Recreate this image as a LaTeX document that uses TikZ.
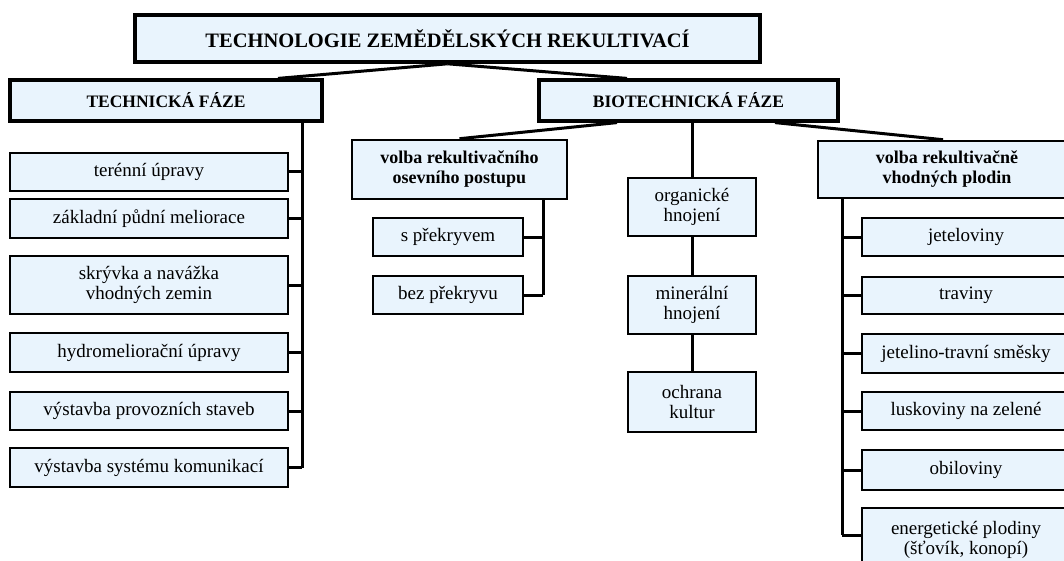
\documentclass[tikz,border=0pt]{standalone}
\usepackage{fontspec}
\setmainfont{Liberation Serif}
\usetikzlibrary{calc}
\definecolor{boxfill}{HTML}{E9F4FD}
\begin{document}
\begin{tikzpicture}[x=1pt,y=-1pt,
  sz/.style 2 args={minimum width=#1pt, minimum height=#2pt},
  box/.style={draw=black, line width=2.6pt, fill=boxfill, inner sep=0pt, align=center,
    font=\fontsize{19}{20.5}\selectfont, text=black},
  headbox/.style={box, line width=3.2pt, font=\bfseries\fontsize{17.5}{20}\selectfont},
  titlebox/.style={box, line width=3.6pt, font=\bfseries\fontsize{20.5}{22}\selectfont},
  subhead/.style={box, font=\bfseries\fontsize{18}{20}\selectfont},
  link/.style={draw=black, line width=3pt}]
\useasboundingbox (0,0) rectangle (1064,561);
\clip (0,0) rectangle (1064,561);
\fill[white] (0,0) rectangle (1064,561);

% top levels
\node[titlebox, sz={625}{47}] (title) at (447.5,38.5) {TECHNOLOGIE ZEMĚDĚLSKÝCH REKULTIVACÍ};
\node[headbox, sz={312}{41}] (tech) at (166,100.5) {TECHNICKÁ FÁZE};
\node[headbox, sz={299}{41}] (bio) at (688.5,100.5) {BIOTECHNICKÁ FÁZE};

% technical phase
\node[box, sz={278}{38}] (t1) at (149,172) {terénní úpravy};
\node[box, sz={278}{39}] (t2) at (149,218.5) {základní půdní meliorace};
\node[box, sz={278}{58}] (t3) at (149,285) {skrývka a navážka\\vhodných zemin};
\node[box, sz={278}{39}] (t4) at (149,352.5) {hydromeliorační úpravy};
\node[box, sz={278}{38}] (t5) at (149,411) {výstavba provozních staveb};
\node[box, sz={278}{39}] (t6) at (149,467.5) {výstavba systému komunikací};

% biotechnical phase - left
\node[subhead, sz={215}{59}] (vr) at (459.5,169.5) {volba rekultivačního\\osevního postupu};
\node[box, sz={150}{38}] (sp) at (448,237) {s překryvem};
\node[box, sz={150}{38}] (bp) at (448,295) {bez překryvu};

% middle
\node[box, sz={128}{58}] (org) at (692,207) {organické\\hnojení};
\node[box, sz={128}{58}] (min) at (692,305) {minerální\\hnojení};
\node[box, sz={128}{60}] (och) at (692,402) {ochrana\\kultur};

% right
\node[subhead, sz={258}{57}] (vv) at (947,169.5) {volba rekultivačně\\vhodných plodin};
\node[box, sz={208}{38}] (r1) at (966,237) {jeteloviny};
\node[box, sz={208}{37}] (r2) at (966,295.5) {traviny};
\node[box, sz={208}{39}] (r3) at (966,353.5) {jetelino-travní směsky};
\node[box, sz={208}{38}] (r4) at (966,411) {luskoviny na zelené};
\node[box, sz={208}{40}] (r5) at (966,470) {obiloviny};
\node[box, sz={208}{64}] (r6) at (966,540) {energetické plodiny\\(šťovík, konopí)};

% connectors from title
\draw[link] (title.south) -- ([xshift=112pt]tech.north);
\draw[link] (title.south) -- ([xshift=-61.5pt]bio.north);

% technical trunk
\coordinate (tt) at ([xshift=136pt]tech.south);
\draw[link] (tt) -- (tt |- t6.east);
\foreach \n in {t1,t2,t3,t4,t5,t6} {\draw[link] (\n.east) -- (\n.east -| tt);}

% biotechnical branches
\draw[link] ([xshift=-71.5pt]bio.south) -- (vr.north);
\draw[link] ([xshift=86.5pt]bio.south) -- ([xshift=-4pt]vv.north);
\draw[link] (org.north |- bio.south) -- (org.north);
\draw[link] (org.south) -- (min.north);
\draw[link] (min.south) -- (och.north);

\coordinate (vt) at ([xshift=83.5pt]vr.south);
\draw[link] (vt) -- (vt |- bp.east);
\foreach \n in {sp,bp} {\draw[link] (\n.east) -- (\n.east -| vt);}

\coordinate (rt) at ([xshift=-105pt]vv.south);
\coordinate (r6c) at ([yshift=5pt]r6.west);
\draw[link] (rt) -- (rt |- r6c);
\foreach \n in {r1,r2,r3,r4,r5} {\draw[link] (\n.west) -- (\n.west -| rt);}
\draw[link] (r6c) -- (r6c -| rt);
\end{tikzpicture}
\end{document}
